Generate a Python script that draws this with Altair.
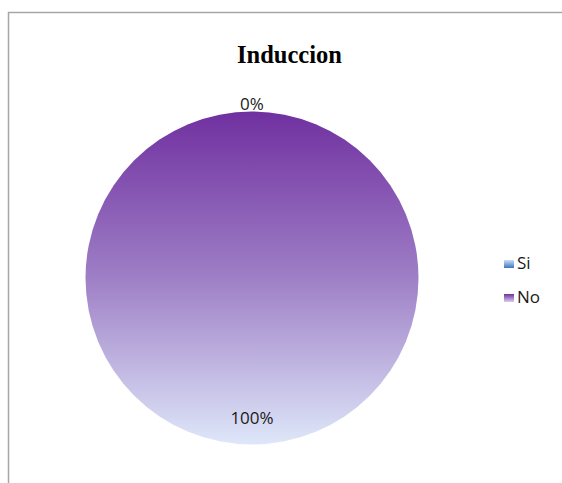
import altair as alt
import pandas as pd

categories = ["Si", "No"]
values = [0, 100]
labels = ["0%", "100%"]
title_text = "Induccion"

W, H = 562, 483
CX, CY, R = 252, 278, 166.5

df = pd.DataFrame({"cat": categories, "val": values, "lab": labels,
                   "r": [173, 141], "idx": [0, 1]})

pie_grad = {"gradient": "linear", "x1": 0, "y1": 0, "x2": 0, "y2": 1,
            "stops": [{"offset": 0, "color": "#7030A0"},
                      {"offset": 0.5, "color": "#9E7FC6"},
                      {"offset": 1, "color": "#DEE7F9"}]}
si_grad = {"gradient": "linear", "x1": 0, "y1": 0, "x2": 0, "y2": 1,
           "stops": [{"offset": 0, "color": "#CCDDF2"},
                     {"offset": 1, "color": "#3B78BE"}]}
no_grad = {"gradient": "linear", "x1": 0, "y1": 0, "x2": 0, "y2": 1,
           "stops": [{"offset": 0, "color": "#7030A0"},
                     {"offset": 1, "color": "#D6D0F0"}]}

base = alt.Chart(df)

frame = base.mark_rect(fill="white", stroke="#A6A6A6", strokeWidth=1.5).encode(
    x=alt.value(8.5), x2=alt.value(W + 20), y=alt.value(12.5), y2=alt.value(H + 20)
).transform_filter("datum.cat == 'Si'")

pie = base.mark_arc(radius=R, color=pie_grad, stroke=None).encode(
    theta=alt.Theta("val:Q", stack=True),
    order=alt.Order("cat:N", sort="descending"),
    x=alt.value(CX), y=alt.value(CY)
)

pct = base.mark_text(font="Open Sans", fontSize=17, color="#1a1a1a").encode(
    theta=alt.Theta("val:Q", stack=True),
    order=alt.Order("cat:N", sort="descending"),
    radius=alt.Radius("r:Q", scale=None),
    text="lab:N",
    x=alt.value(CX), y=alt.value(CY)
)

title = base.mark_text(font="Liberation Serif", fontSize=24.5, fontWeight="bold",
                       color="black", baseline="alphabetic").encode(
    x=alt.value(289.5), y=alt.value(63), text=alt.value(title_text)
).transform_filter("datum.cat == 'Si'")

leg_y = alt.Y("idx:Q", scale=alt.Scale(domain=[0, 1], range=[264, 298]), axis=None)

leg_si = base.mark_rect(fill=si_grad, width=10, height=8).encode(
    x=alt.value(509), y=leg_y
).transform_filter("datum.cat == 'Si'")
leg_no = base.mark_rect(fill=no_grad, width=10, height=8).encode(
    x=alt.value(509), y=leg_y
).transform_filter("datum.cat == 'No'")
leg_txt = base.mark_text(font="Open Sans", fontSize=17, align="left",
                         baseline="middle", color="#1a1a1a").encode(
    x=alt.value(517), y=leg_y, text="cat:N"
)

chart = alt.layer(frame, pie, pct, title, leg_si, leg_no, leg_txt).properties(
    width=W, height=H, padding=0, autosize=alt.AutoSizeParams(type="none")
).configure_view(stroke=None)

chart.save("out.html", embed_options={"renderer": "svg", "actions": False})
